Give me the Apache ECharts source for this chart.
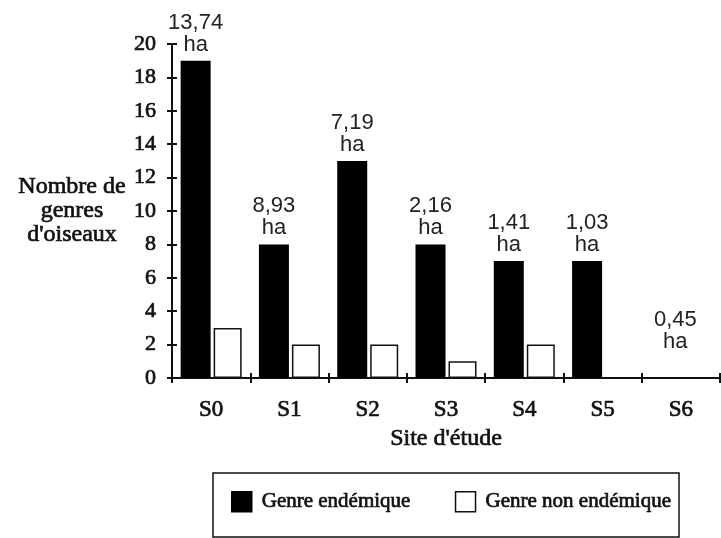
<!DOCTYPE html>
<html>
<head>
<meta charset="utf-8">
<script src="https://cdn.jsdelivr.net/npm/echarts@6/dist/echarts.min.js"></script>
<style>html,body{margin:0;padding:0;background:#fff}#c{width:721px;height:538px}</style>
</head>
<body>
<div id="c"></div>
<script>
const categories = ['S0', 'S1', 'S2', 'S3', 'S4', 'S5', 'S6'];
const endemic = [19, 8, 13, 8, 7, 7, 0];
const nonEndemic = [3, 2, 2, 1, 2, 0, 0];
const areaLabels = ['13,74', '8,93', '7,19', '2,16', '1,41', '1,03', '0,45'];
const yTicks = { min: 0, max: 20, interval: 2 };

const serif = "'Liberation Serif', 'DejaVu Serif', serif";
const sans = "'Liberation Sans', Arial, sans-serif";
const thick = { textBorderColor: '#111', textBorderWidth: 0.7 };

const chart = echarts.init(document.getElementById('c'), null, { renderer: 'canvas' });

const endemicData = endemic.map((v, i) => {
  const item = { value: v };
  if (v === 0) item.label = { offset: [10, -20] };
  return item;
});

chart.setOption({
  animation: false,
  backgroundColor: '#fff',
  grid: { left: 172, right: 1, top: 44, bottom: 160, containLabel: false },
  graphic: [{
    type: 'rect',
    shape: { x: 213, y: 473, width: 466, height: 64 },
    style: { fill: 'none', stroke: '#111', lineWidth: 1.5 },
    silent: true
  }],
  legend: {
    left: 231, top: 491, padding: 0,
    itemWidth: 20, itemHeight: 20, itemGap: 44,
    icon: 'rect',
    textStyle: Object.assign({ fontFamily: serif, fontSize: 21, color: '#111', padding: [0, 0, 0, 5] }, thick),
    data: [
      { name: 'Genre endémique', itemStyle: { color: '#000', borderColor: '#000', borderWidth: 1.5 } },
      { name: 'Genre non endémique', itemStyle: { color: '#fff', borderColor: '#111', borderWidth: 1.5 } }
    ]
  },
  xAxis: [{
    type: 'category',
    data: categories,
    boundaryGap: true,
    position: 'bottom',
    axisLine: { show: true, lineStyle: { color: '#111', width: 2 } },
    axisTick: { show: true, alignWithLabel: false, length: 5, lineStyle: { color: '#111', width: 2 } },
    axisLabel: Object.assign({ margin: 20, fontFamily: serif, fontSize: 23, color: '#111' }, thick),
    name: "Site d'étude",
    nameLocation: 'middle',
    nameGap: 44,
    nameTextStyle: Object.assign({ fontFamily: serif, fontSize: 24, color: '#111' }, thick)
  }, {
    type: 'category',
    data: categories,
    boundaryGap: true,
    position: 'bottom',
    axisLine: { show: false },
    axisTick: { show: true, inside: true, length: 5, lineStyle: { color: '#111', width: 2 } },
    axisLabel: { show: false },
    splitLine: { show: false }
  }],
  yAxis: [{
    type: 'value',
    min: yTicks.min, max: yTicks.max, interval: yTicks.interval,
    position: 'left',
    axisLine: { show: true, lineStyle: { color: '#111', width: 2 } },
    axisTick: { show: true, length: 5, lineStyle: { color: '#111', width: 2 } },
    axisLabel: Object.assign({ margin: 16, fontFamily: serif, fontSize: 22, color: '#111' }, thick),
    splitLine: { show: false },
    name: "Nombre de\ngenres\nd'oiseaux",
    nameLocation: 'middle',
    nameRotate: 0,
    nameGap: 100,
    nameTextStyle: Object.assign({ fontFamily: serif, fontSize: 24, color: '#111', align: 'center', lineHeight: 24, padding: [0, 0, 18, 0] }, thick)
  }, {
    type: 'value',
    min: yTicks.min, max: yTicks.max, interval: yTicks.interval,
    position: 'left',
    axisLine: { show: false },
    axisTick: { show: true, inside: true, length: 5, lineStyle: { color: '#111', width: 2 } },
    axisLabel: { show: false },
    splitLine: { show: false }
  }],
  series: [{
    name: 'Genre endémique',
    type: 'bar',
    data: endemicData,
    barWidth: 30,
    barGap: '10%',
    itemStyle: { color: '#000' },
    label: {
      show: true,
      position: 'top',
      distance: 5,
      formatter: p => areaLabels[p.dataIndex] + '\nha',
      fontFamily: sans,
      fontSize: 22,
      lineHeight: 22,
      color: '#222'
    }
  }, {
    name: 'Genre non endémique',
    type: 'bar',
    data: nonEndemic,
    barWidth: 28,
    barGap: '10%',
    itemStyle: { color: '#fff', borderColor: '#111', borderWidth: 1.5 }
  }]
});
</script>
</body>
</html>
